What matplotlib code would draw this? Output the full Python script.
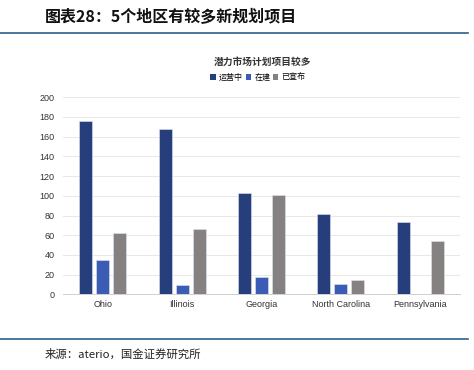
import matplotlib.pyplot as plt
import numpy as np
from matplotlib.lines import Line2D
from matplotlib.patches import Patch

plt.rcParams['font.family'] = ['Liberation Sans', 'Noto Sans CJK SC', 'DejaVu Sans']

# data
regions = ["Ohio", "Illinois", "Georgia", "North Carolina", "Pennsylvania"]
operating = [176, 168, 103, 82, 73]
building = [35, 9, 18, 10, 0]
announced = [62, 66, 101, 15, 54]
series_names = ["运营中", "在建", "已宣布"]
colors = ["#263f7c", "#3a5cb4", "#868181"]

fig = plt.figure(figsize=(4.74, 3.70), dpi=100)

# header and footer
fig.text(45 / 474, 1 - 17 / 370, "图表28：5个地区有较多新规划项目", fontsize=11.5,
         fontweight='bold', style='italic', family=['Noto Sans CJK SC', 'DejaVu Sans'],
         va='center', ha='left', color='#111111')
fig.add_artist(Line2D([0, 468 / 474], [1 - 33 / 370] * 2, color='#2e5f8c', lw=1.2))
fig.add_artist(Line2D([0, 468 / 474], [1 - 339 / 370] * 2, color='#2e5f8c', lw=1.2))
fig.text(45 / 474, 1 - 354 / 370, "来源：aterio，国金证券研究所", fontsize=8.2,
         family=['Noto Sans CJK SC', 'DejaVu Sans'], va='center', ha='left', color='#222222')

ax = fig.add_axes([63 / 474, 1 - 294.3 / 370, 397 / 474, 197 / 370])
x = np.arange(len(regions))
w = 13 / 79.4
step = 17 / 79.4
for i, (vals, c) in enumerate(zip([operating, building, announced], colors)):
    ax.bar(x + (i - 1) * step, vals, width=w, color=c, edgecolor='#dfe3ee', linewidth=0.4, zorder=3)

ax.set_xlim(-0.5, len(regions) - 0.5)
ax.set_ylim(0, 200)
ax.set_yticks(range(0, 201, 20))
ax.set_xticks(x)
ax.set_xticklabels(regions)
ax.tick_params(axis='both', length=0, labelsize=6.5, colors='#333333')
ax.tick_params(axis='y', pad=6)
ax.tick_params(axis='x', pad=4)
ax.grid(axis='y', color='#e8e8e8', lw=0.7, zorder=0)
for s in ['top', 'right', 'left']:
    ax.spines[s].set_visible(False)
ax.spines['bottom'].set_color('#d0d0d0')
ax.spines['bottom'].set_linewidth(0.7)

fig.text(262 / 474, 1 - 62 / 370, "潜力市场计划项目较多", fontsize=7, fontweight='bold',
         family=['Noto Sans CJK SC', 'DejaVu Sans'], ha='center', va='center', color='#333333')
handles = [Patch(facecolor=c, edgecolor='none') for c in colors]
fig.legend(handles, series_names, loc='center', bbox_to_anchor=(258 / 474, 1 - 77 / 370),
           ncol=3, frameon=False, handlelength=0.7, handleheight=0.7,
           handletextpad=0.4, columnspacing=0.3,
           prop={'family': ['Noto Sans CJK SC', 'DejaVu Sans'], 'size': 5.8})

fig.savefig("out.png", dpi=100)
